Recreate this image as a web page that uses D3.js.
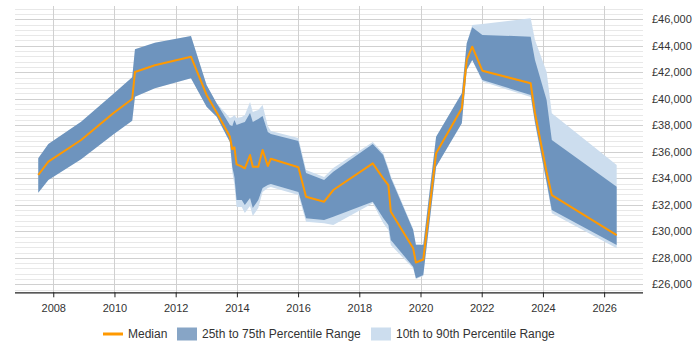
<!DOCTYPE html>
<html><head><meta charset="utf-8">
<script src="https://cdn.jsdelivr.net/npm/d3@7"></script>
<style>body{margin:0;background:#fff}svg{display:block;font-family:"Liberation Sans",Arial,sans-serif}</style>
</head><body><svg id="c" width="700" height="350"></svg>
<script>
const dates = [2007.51,2007.84,2008.91,2009.96,2010.58,2010.67,2011.32,2012.50,2013.01,2013.34,2013.77,2013.85,2013.92,2013.99,2014.16,2014.26,2014.43,2014.52,2014.70,2014.84,2015.01,2015.11,2016.01,2016.26,2016.85,2017.15,2018.44,2018.78,2018.95,2019.03,2019.76,2019.85,2020.09,2020.51,2021.35,2021.51,2021.69,2022.02,2023.60,2023.74,2024.12,2024.29,2026.41];
const p90 = [35509,36588,38271,40362,41622,43735,44234,44739,41041,39660,38551,38626,38777,38551,38626,38777,39758,39003,39154,39532,37947,37570,37041,34626,34098,34777,36739,35909,34777,34173,30173,29041,29041,37139,40415,44188,45569,45645,46075,44437,42045,38905,35003];
const p75 = [35509,36588,38271,40362,41622,43735,44234,44739,41041,39660,38022,37947,38400,38022,38173,38249,38928,38249,38475,38701,37494,37343,36815,34400,33872,34498,36588,35758,34626,34022,30098,28966,28966,37139,40415,44188,45396,44815,44686,42928,39909,36890,33366];
const median = [34249,35253,36890,38905,39985,42022,42528,43177,40286,38958,37154,36188,36339,35056,34890,34755,35758,34875,34875,36136,34928,35479,34830,32611,32234,33117,35132,34000,33494,31479,28717,27645,27872,35887,39283,42928,43932,42120,41169,38928,34475,32739,29721];
const p25 = [32913,33872,35434,37313,38347,40158,40792,41547,39403,38649,36739,34853,34098,32362,32362,31985,32513,31758,32362,33268,33494,33570,32966,30981,30853,31102,32234,31004,30475,29343,27328,26453,26702,34875,38151,42173,42928,41419,40286,38249,33721,31607,28966];
const p10 = [32913,33872,35434,37313,38347,40158,40792,41547,39403,38649,36739,34475,33494,31834,31834,31381,31909,31155,31758,32966,33268,33343,32739,30724,30604,30475,32113,30626,30098,28966,27208,26400,26626,34875,38151,42173,42928,41300,40135,38100,33600,31358,28717];
const xTicks = [2008,2010,2012,2014,2016,2018,2020,2022,2024,2026];
const yTicks = [26000,28000,30000,32000,34000,36000,38000,40000,42000,44000,46000];
const legendLabels = ["Median","25th to 75th Percentile Range","10th to 90th Percentile Range"];

const svg = d3.select("#c");
const L = 15, R = 643, T = 6, B = 292.3;
const x = d3.scaleLinear().domain([2006.75, 2027.27]).range([L, R]);
const y = d3.scaleLinear().domain([25400, 47000]).range([B, T]);
const data = dates.map((d,i)=>({d, p90:p90[i], p75:p75[i], m:median[i], p25:p25[i], p10:p10[i]}));

const g = svg.append("g");
// minor gridlines
const minor = d3.range(25600, 47000, 400);
g.selectAll("line.mi").data(minor).join("line")
  .attr("x1", L).attr("x2", R).attr("y1", d=>Math.round(y(d))+0.5).attr("y2", d=>Math.round(y(d))+0.5)
  .attr("stroke", "#e8e8e8").attr("stroke-width", 1);
g.selectAll("line.ma").data(yTicks).join("line")
  .attr("x1", L).attr("x2", R).attr("y1", d=>Math.round(y(d))+0.5).attr("y2", d=>Math.round(y(d))+0.5)
  .attr("stroke", "#d0d0d0").attr("stroke-width", 1);
g.selectAll("line.vx").data(xTicks).join("line")
  .attr("x1", d=>Math.round(x(d))+0.5).attr("x2", d=>Math.round(x(d))+0.5).attr("y1", T).attr("y2", B)
  .attr("stroke", "#d0d0d0").attr("stroke-width", 1);

// bands
const a90 = d3.area().x(d=>x(d.d)).y0(d=>y(d.p10)).y1(d=>y(d.p90));
const a75 = d3.area().x(d=>x(d.d)).y0(d=>y(d.p25)).y1(d=>y(d.p75));
svg.append("path").datum(data).attr("d", a90).attr("fill", "#ccddee");
svg.append("path").datum(data).attr("d", a75).attr("fill", "rgba(15,75,141,0.5)");
svg.append("path").datum(data).attr("d", d3.line().x(d=>x(d.d)).y(d=>y(d.m)))
  .attr("fill", "none").attr("stroke", "#ff9900").attr("stroke-width", 2).attr("stroke-linejoin", "round");

// x axis
const xa = svg.append("g").attr("transform", `translate(0,${B})`)
  .call(d3.axisBottom(x).tickValues(xTicks).tickFormat(d3.format("d")).tickSizeOuter(0).tickSize(5));
xa.select(".domain").attr("stroke", "#222").attr("stroke-width", 1.3).attr("d", `M${L},0.5H${R}`);
xa.selectAll(".tick line").attr("stroke", "#222");
xa.selectAll("text").attr("font-size", 11).attr("fill", "#333").attr("font-family", "Liberation Sans, Arial, sans-serif").attr("dy", "1.05em");

// y labels
const fmt = d => "£" + d3.format(",")(d);
svg.selectAll("text.yl").data(yTicks).join("text")
  .attr("x", 652).attr("y", d=>y(d)).attr("dy", "0.35em")
  .attr("font-size", 11).attr("fill", "#333").text(fmt);

// legend
const ly = 334;
const lg = svg.append("g").attr("font-size", 12).attr("fill", "#333");
lg.append("line").attr("x1", 103).attr("x2", 123).attr("y1", ly).attr("y2", ly).attr("stroke", "#ff9900").attr("stroke-width", 3);
lg.append("text").attr("x", 128).attr("y", ly).attr("dy", "0.35em").text(legendLabels[0]);
lg.append("rect").attr("x", 177).attr("y", ly-6.5).attr("width", 20).attr("height", 13).attr("fill", "rgba(15,75,141,0.5)");
lg.append("text").attr("x", 202).attr("y", ly).attr("dy", "0.35em").text(legendLabels[1]);
lg.append("rect").attr("x", 371).attr("y", ly-6.5).attr("width", 20).attr("height", 13).attr("fill", "#ccddee");
lg.append("text").attr("x", 396).attr("y", ly).attr("dy", "0.35em").text(legendLabels[2]);
</script></body></html>
